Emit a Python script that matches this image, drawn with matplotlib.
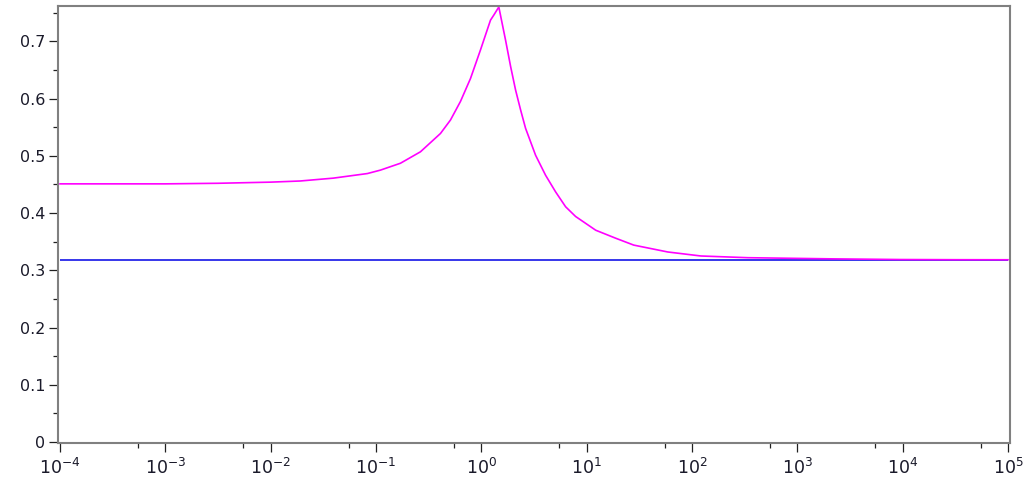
import matplotlib
matplotlib.use("Agg")
import matplotlib.pyplot as plt
from matplotlib.ticker import FixedLocator, LogFormatterSciNotation, MultipleLocator

# Data (x in log10 units)
log_x = [-4.0, -3.5, -3.0, -2.5, -2.0, -1.72, -1.405, -1.082, -0.958, -0.768,
         -0.578, -0.388, -0.293, -0.198, -0.103, -0.008, 0.087, 0.119, 0.166,
         0.230, 0.278, 0.325, 0.373, 0.420, 0.515, 0.610, 0.705, 0.800, 0.895,
         1.086, 1.276, 1.447, 1.77, 2.084, 2.53, 3.32, 3.98, 4.5, 5.0]
magenta_y = [0.451, 0.451, 0.451, 0.452, 0.454, 0.456, 0.461, 0.469, 0.475, 0.487,
             0.507, 0.539, 0.5625, 0.595, 0.635, 0.685, 0.737, 0.746, 0.760,
             0.702, 0.656, 0.615, 0.580, 0.548, 0.501, 0.466, 0.437, 0.411, 0.394,
             0.370, 0.356, 0.344, 0.332, 0.325, 0.322, 0.320, 0.3188, 0.3185, 0.3184]
blue_level = 0.3183

x_vals = [10 ** v for v in log_x]

fig = plt.figure(figsize=(10.30, 4.96), dpi=100)
ax = fig.add_axes([58 / 1030, 1 - 443 / 496, (1010 - 58) / 1030, (443 - 6) / 496])

ax.plot([1e-4, 1e5], [blue_level, blue_level], color="#0000e6", lw=1.1, solid_capstyle="butt")
ax.plot(x_vals, magenta_y, color="#ff00ff", lw=1.2)

ax.set_xscale("log")
ax.set_xlim(10 ** (-4 - 2 / 105.2), 10 ** (5 + 2 / 105.2))
ax.set_ylim(-0.0017, 0.7617)

major_x = [10.0 ** k for k in range(-4, 6)]
minor_x = [5.5 * 10.0 ** k for k in range(-4, 5)]
ax.xaxis.set_major_locator(FixedLocator(major_x))
ax.xaxis.set_minor_locator(FixedLocator(minor_x))
ax.xaxis.set_major_formatter(LogFormatterSciNotation())
ax.yaxis.set_minor_locator(MultipleLocator(0.05))
ax.set_yticks([0, 0.1, 0.2, 0.3, 0.4, 0.5, 0.6, 0.7])
ax.set_yticklabels(["0", "0.1", "0.2", "0.3", "0.4", "0.5", "0.6", "0.7"])

for s in ax.spines.values():
    s.set_color("#808080")
    s.set_linewidth(1.5)

ax.tick_params(axis="both", which="major", direction="out", length=6.5, width=0.9,
               color="#202020", labelcolor="#1a1a2a")
ax.tick_params(axis="y", which="major", labelsize=11.5, pad=2.5)
ax.tick_params(axis="x", which="major", labelsize=12.5, pad=4)
ax.tick_params(axis="both", which="minor", direction="out", length=3.5, width=0.9,
               color="#202020")
ax.tick_params(top=False, right=False, which="both")

fig.savefig("out.png", dpi=100)
